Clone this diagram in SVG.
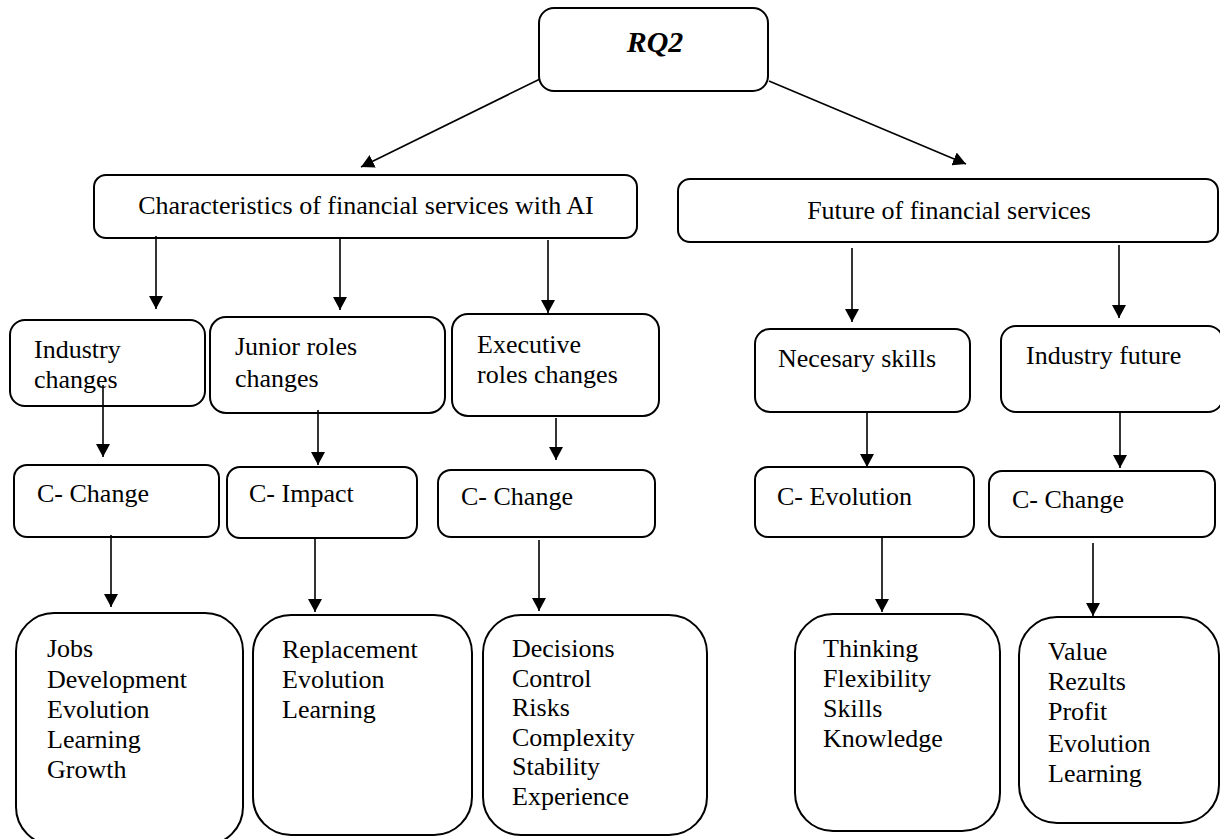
<svg xmlns="http://www.w3.org/2000/svg" width="1220" height="839" viewBox="0 0 1220 839">
  <style>
    .box { fill: #ffffff; stroke: #000000; stroke-width: 2; }
    .lbl { font-family: "Liberation Serif", "Times New Roman", serif; font-size: 26px; fill: #000000; }
    .title { font-family: "Liberation Serif", "Times New Roman", serif; font-size: 30px; font-weight: bold; font-style: italic; fill: #000000; }
    .link { stroke: #000000; stroke-width: 1.6; fill: none; marker-end: url(#head); }
  </style>
  <defs>
    <marker id="head" viewBox="0 0 13 14" refX="13" refY="7" markerWidth="13" markerHeight="14" markerUnits="userSpaceOnUse" orient="auto">
      <path d="M0,0 L13,7 L0,14 Z" fill="#000000"/>
    </marker>
  </defs>
  <rect width="1220" height="839" fill="#ffffff"/>

  <!-- root -->
  <g id="rq2">
    <rect class="box" x="539" y="8" width="229" height="83" rx="15"/>
    <text class="title" x="655" y="52" text-anchor="middle">RQ2</text>
  </g>

  <!-- level 1 -->
  <g id="characteristics">
    <rect class="box" x="94" y="175" width="543" height="63" rx="12"/>
    <text class="lbl" x="366" y="214" text-anchor="middle">Characteristics of financial services with AI</text>
  </g>
  <g id="future">
    <rect class="box" x="678" y="179" width="540" height="63" rx="12"/>
    <text class="lbl" x="949" y="219" text-anchor="middle">Future of financial services</text>
  </g>

  <!-- level 2 -->
  <g id="industry-changes">
    <rect class="box" x="10" y="320" width="195" height="86" rx="15"/>
    <text class="lbl" x="34" y="358">Industry</text>
    <text class="lbl" x="34" y="388">changes</text>
  </g>
  <g id="junior-roles">
    <rect class="box" x="210" y="317" width="235" height="96" rx="16"/>
    <text class="lbl" x="235" y="355">Junior roles</text>
    <text class="lbl" x="235" y="387">changes</text>
  </g>
  <g id="executive-roles">
    <rect class="box" x="452" y="314" width="207" height="102" rx="16"/>
    <text class="lbl" x="477" y="353">Executive</text>
    <text class="lbl" x="477" y="383">roles changes</text>
  </g>
  <g id="necessary-skills">
    <rect class="box" x="755" y="329" width="215" height="83" rx="15"/>
    <text class="lbl" x="778" y="367">Necesary skills</text>
  </g>
  <g id="industry-future">
    <rect class="box" x="1001" y="326" width="222" height="86" rx="15"/>
    <text class="lbl" x="1026" y="364">Industry future</text>
  </g>

  <!-- level 3 -->
  <g id="c-change-1">
    <rect class="box" x="14" y="465" width="205" height="72" rx="13"/>
    <text class="lbl" x="37" y="502">C- Change</text>
  </g>
  <g id="c-impact">
    <rect class="box" x="227" y="467" width="190" height="71" rx="13"/>
    <text class="lbl" x="249" y="502">C- Impact</text>
  </g>
  <g id="c-change-2">
    <rect class="box" x="438" y="470" width="217" height="67" rx="13"/>
    <text class="lbl" x="461" y="505">C- Change</text>
  </g>
  <g id="c-evolution">
    <rect class="box" x="755" y="467" width="219" height="70" rx="13"/>
    <text class="lbl" x="777" y="505">C- Evolution</text>
  </g>
  <g id="c-change-3">
    <rect class="box" x="989" y="471" width="226" height="66" rx="13"/>
    <text class="lbl" x="1012" y="508">C- Change</text>
  </g>

  <!-- level 4 -->
  <g id="list-jobs">
    <rect class="box" x="16" y="613" width="227" height="232" rx="38"/>
    <text class="lbl" x="47" y="657">Jobs</text>
    <text class="lbl" x="47" y="688">Development</text>
    <text class="lbl" x="47" y="718">Evolution</text>
    <text class="lbl" x="47" y="748">Learning</text>
    <text class="lbl" x="47" y="778">Growth</text>
  </g>
  <g id="list-replacement">
    <rect class="box" x="253" y="615" width="219" height="220" rx="38"/>
    <text class="lbl" x="282" y="658">Replacement</text>
    <text class="lbl" x="282" y="688">Evolution</text>
    <text class="lbl" x="282" y="718">Learning</text>
  </g>
  <g id="list-decisions">
    <rect class="box" x="483" y="615" width="224" height="220" rx="38"/>
    <text class="lbl" x="512" y="657">Decisions</text>
    <text class="lbl" x="512" y="687">Control</text>
    <text class="lbl" x="512" y="716">Risks</text>
    <text class="lbl" x="512" y="746">Complexity</text>
    <text class="lbl" x="512" y="775">Stability</text>
    <text class="lbl" x="512" y="805">Experience</text>
  </g>
  <g id="list-thinking">
    <rect class="box" x="795" y="614" width="205" height="217" rx="38"/>
    <text class="lbl" x="823" y="657">Thinking</text>
    <text class="lbl" x="823" y="687">Flexibility</text>
    <text class="lbl" x="823" y="717">Skills</text>
    <text class="lbl" x="823" y="747">Knowledge</text>
  </g>
  <g id="list-value">
    <rect class="box" x="1019" y="617" width="200" height="206" rx="38"/>
    <text class="lbl" x="1048" y="660">Value</text>
    <text class="lbl" x="1048" y="690">Rezults</text>
    <text class="lbl" x="1048" y="720">Profit</text>
    <text class="lbl" x="1048" y="752">Evolution</text>
    <text class="lbl" x="1048" y="782">Learning</text>
  </g>

  <!-- connectors -->
  <g id="connectors">
    <line class="link" x1="540" y1="79" x2="361" y2="167"/>
    <line class="link" x1="769" y1="81" x2="966" y2="164"/>

    <line class="link" x1="156" y1="236" x2="156" y2="309"/>
    <line class="link" x1="340" y1="238" x2="340" y2="310"/>
    <line class="link" x1="548" y1="240" x2="548" y2="313"/>
    <line class="link" x1="852" y1="248" x2="852" y2="322"/>
    <line class="link" x1="1119" y1="245" x2="1119" y2="318"/>

    <line class="link" x1="103" y1="385" x2="103" y2="457"/>
    <line class="link" x1="318" y1="410" x2="318" y2="465"/>
    <line class="link" x1="556" y1="418" x2="556" y2="460"/>
    <line class="link" x1="867" y1="412" x2="867" y2="467"/>
    <line class="link" x1="1120" y1="412" x2="1120" y2="468"/>

    <line class="link" x1="111" y1="535" x2="111" y2="607"/>
    <line class="link" x1="315" y1="538" x2="315" y2="612"/>
    <line class="link" x1="539" y1="540" x2="539" y2="611"/>
    <line class="link" x1="882" y1="538" x2="882" y2="612"/>
    <line class="link" x1="1093" y1="543" x2="1093" y2="616"/>
  </g>
</svg>
